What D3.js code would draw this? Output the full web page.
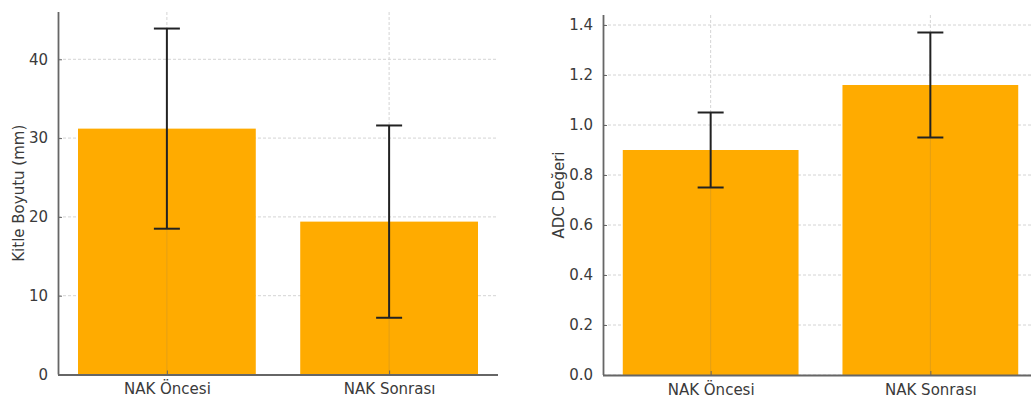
<!DOCTYPE html>
<html>
<head>
<meta charset="utf-8">
<script src="https://cdn.jsdelivr.net/npm/d3@7"></script>
<style>
  body { margin: 0; background: #fff; }
  svg { display: block; font-family: "DejaVu Sans", sans-serif; }
</style>
</head>
<body>
<svg id="chart" width="1031" height="398"></svg>
<script>
// DATA
const categories = ["NAK Öncesi", "NAK Sonrası"];
const sizeMeans = [31.2, 19.4];
const sizeErrors = [12.7, 12.2];
const adcMeans = [0.90, 1.16];
const adcErrors = [0.15, 0.21];
const sizeTicks = [0, 10, 20, 30, 40];
const adcTicks = [0, 0.2, 0.4, 0.6, 0.8, 1.0, 1.2, 1.4];

const svg = d3.select("#chart");
const barColor = "#ffab00";
const axisColor = "#666";
const textColor = "#3a3a3a";

function drawPanel(opts) {
    const g = svg.append("g");

    const x = d3.scaleLinear().domain([-0.49, 1.49]).range([opts.left, opts.right]);
    const y = d3.scaleLinear().domain([0, opts.yMax]).range([opts.bottom, opts.top]);

    // grid
    g.selectAll(".hgrid")
        .data(opts.ticks)
        .enter()
        .append("line")
        .attr("x1", opts.left)
        .attr("x2", opts.right)
        .attr("y1", d => y(d))
        .attr("y2", d => y(d))
        .attr("stroke", "#d4d4d4")
        .attr("stroke-width", 1)
        .attr("stroke-dasharray", "3,2");

    g.selectAll(".vgrid")
        .data(categories)
        .enter()
        .append("line")
        .attr("x1", (d, i) => x(i))
        .attr("x2", (d, i) => x(i))
        .attr("y1", opts.top)
        .attr("y2", opts.bottom)
        .attr("stroke", "#d4d4d4")
        .attr("stroke-width", 1)
        .attr("stroke-dasharray", "3,2");

    // bars
    g.selectAll(".bar")
        .data(opts.means)
        .enter()
        .append("rect")
        .attr("x", (d, i) => x(i - 0.4))
        .attr("width", x(0.8) - x(0))
        .attr("y", d => y(d))
        .attr("height", d => y(0) - y(d))
        .attr("fill", barColor);

    // faint grid line visible through the bars
    g.selectAll(".vgrid2")
        .data(opts.means)
        .enter()
        .append("line")
        .attr("x1", (d, i) => x(i))
        .attr("x2", (d, i) => x(i))
        .attr("y1", d => y(d))
        .attr("y2", opts.bottom)
        .attr("stroke", "#b08a3a")
        .attr("stroke-opacity", 0.35)
        .attr("stroke-width", 1);

    // error bars
    const capHalf = 13;
    opts.means.forEach((m, i) => {
        const e = opts.errors[i];
        const cx = x(i);
        g.append("line")
            .attr("x1", cx).attr("x2", cx)
            .attr("y1", y(m + e)).attr("y2", y(m - e))
            .attr("stroke", "#222").attr("stroke-width", 2);
        [m + e, m - e].forEach(v => {
            g.append("line")
                .attr("x1", cx - capHalf).attr("x2", cx + capHalf)
                .attr("y1", y(v)).attr("y2", y(v))
                .attr("stroke", "#222").attr("stroke-width", 2);
        });
    });

    // axes
    const yAxis = g.append("g")
        .attr("transform", `translate(${opts.left},0)`)
        .call(d3.axisLeft(y).tickValues(opts.ticks).tickFormat(opts.fmt).tickSizeInner(-4).tickSizeOuter(0).tickPadding(10));
    const xAxis = g.append("g")
        .attr("transform", `translate(0,${opts.bottom})`)
        .call(d3.axisBottom(x).tickValues([0, 1]).tickFormat(i => categories[i]).tickSizeInner(-4).tickSizeOuter(0).tickPadding(9));

    [yAxis, xAxis].forEach(a => {
        a.select(".domain").attr("stroke", axisColor).attr("stroke-width", 1.8);
        a.selectAll(".tick line").attr("stroke", axisColor).attr("stroke-width", 1);
        a.selectAll("text").attr("fill", textColor).style("font-size", "15px").style("font-family", "DejaVu Sans");
    });
    yAxis.select(".domain").attr("d", `M0.5,${opts.top}V${opts.bottom}`);
    xAxis.select(".domain").attr("d", `M${opts.left},0.5H${opts.right}`);

    // y label
    g.append("text")
        .attr("transform", "rotate(-90)")
        .attr("x", -(opts.top + opts.bottom) / 2)
        .attr("y", opts.labelX)
        .attr("text-anchor", "middle")
        .attr("dominant-baseline", "central")
        .attr("fill", textColor)
        .style("font-size", "15px")
        .text(opts.label);
}

drawPanel({
    left: 58, right: 498, top: 12, bottom: 374.5,
    yMax: 46, ticks: sizeTicks, fmt: d3.format("d"),
    means: sizeMeans, errors: sizeErrors,
    label: "Kitle Boyutu (mm)", labelX: 19
});

drawPanel({
    left: 603, right: 1038, top: 15, bottom: 375,
    yMax: 1.44, ticks: adcTicks, fmt: d3.format(".1f"),
    means: adcMeans, errors: adcErrors,
    label: "ADC Değeri", labelX: 559
});
</script>
</body>
</html>
